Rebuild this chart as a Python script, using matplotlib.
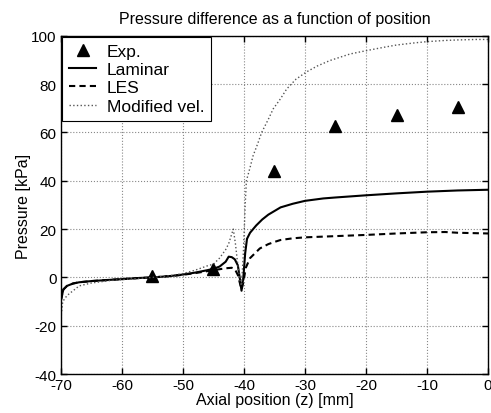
import matplotlib
matplotlib.use("Agg")
import matplotlib.pyplot as plt

plt.rcParams['font.family'] = ['Liberation Sans', 'DejaVu Sans']
plt.rcParams['axes.unicode_minus'] = False

title = "Pressure difference as a function of position"
xlabel = "Axial position (z) [mm]"
ylabel = "Pressure [kPa]"

exp_x = [-55, -45, -35, -25, -15, -5]
exp_y = [0.5, 3.7, 44.2, 62.8, 67.3, 70.7]

lam_x = [-70, -69.6, -69, -68, -67, -65, -62, -60, -57, -55, -52, -50, -48, -46, -45,
         -44, -43, -42.5, -42, -41.5, -41, -40.7, -40.4, -40.1, -39.8, -39.5, -39, -38,
         -37, -36, -35, -34, -32, -30, -27, -25, -20, -15, -10, -5, 0]
lam_y = [-9.5, -5, -3.5, -2.5, -2, -1.5, -1, -0.7, -0.2, 0, 0.6, 1.2, 2, 3, 3.6,
         4.5, 6.5, 8.6, 8.4, 7.5, 5, 0, -5.5, 0, 10, 16, 18.5, 21.5,
         24, 26, 27.5, 29, 30.5, 31.7, 32.7, 33.1, 34, 34.8, 35.5, 36, 36.3]

les_x = [-70, -69.6, -69, -68, -67, -65, -62, -60, -57, -55, -52, -50, -48, -47, -45,
         -44, -43, -42, -41.5, -41, -40.7, -40.4, -40.1, -39.7, -39, -38, -37.4, -36,
         -35, -34, -32, -30, -25, -20, -15, -10, -7, -5, 0]
les_y = [-9.5, -5, -3.5, -2.5, -2, -1.5, -1, -0.7, -0.2, 0, 0.6, 1.1, 1.8, 2.2, 3,
         3.4, 3.8, 4, 3.5, 1, -2, -5, -2, 4, 8, 10.5, 12, 13.8,
         14.7, 15.5, 16.2, 16.6, 17.1, 17.6, 18.2, 18.7, 18.8, 18.5, 18.2]

mod_x = [-70, -69.7, -69, -68.5, -67, -65, -62, -60, -55, -52, -50, -48, -46, -45,
         -44, -43, -42.5, -42, -41.75, -41.4, -41, -40.6, -40.4, -40.1, -39.8, -39.6,
         -39, -38.5, -37.8, -37.1, -36, -35.2, -34, -33, -31.5, -29.8, -28, -25.9,
         -22.6, -19.9, -17, -15, -12, -10, -7, -5, -2, 0]
mod_y = [-17, -10, -7.5, -6.5, -3.5, -2.3, -1.3, -0.9, 0, 0.8, 1.6, 3, 4.8, 5.5,
         8, 11.5, 14, 18, 20, 14, 5, -2, -3.4, 10, 30, 40,
         45.5, 50.4, 55, 60, 65.5, 69.8, 74, 78, 82, 85, 87.5, 89.8,
         92.5, 93.9, 95.3, 96.2, 97.1, 97.6, 98.1, 98.3, 98.5, 98.5]

fig = plt.figure(figsize=(4.91, 4.14), dpi=100)
ax = fig.add_axes([0.124, 0.094, 0.870, 0.817])

ax.plot(exp_x, exp_y, linestyle='none', marker='^', color='black', markersize=8, label='Exp.')
ax.plot(lam_x, lam_y, '-', color='black', lw=1.5, label='Laminar')
ax.plot(les_x, les_y, '--', color='black', lw=1.5, dashes=(3, 2), label='LES')
ax.plot(mod_x, mod_y, ':', color='#555555', lw=1.0, label='Modified vel.')

ax.set_xlim(-70, 0)
ax.set_ylim(-40, 100)
ax.set_xticks(range(-70, 1, 10))
ax.set_yticks(range(-40, 101, 20))
ax.grid(True, linestyle=':', color='#888888', lw=0.8)
ax.tick_params(direction='in', top=True, right=True, labelsize=11, length=4, width=1, pad=3)
for s in ax.spines.values():
    s.set_linewidth(1.0)

ax.set_title(title, fontsize=11.5, pad=9)
ax.set_xlabel(xlabel, fontsize=11.5, labelpad=0)
ax.set_ylabel(ylabel, fontsize=11.5, labelpad=0)

leg = ax.legend(loc='upper left', fontsize=12.5, fancybox=False, edgecolor='black',
                framealpha=1, borderaxespad=0.05, handlelength=1.6, borderpad=0.4,
                labelspacing=0.18, handletextpad=0.6)
leg.get_frame().set_linewidth(0.8)

fig.savefig("out.png", dpi=100)
